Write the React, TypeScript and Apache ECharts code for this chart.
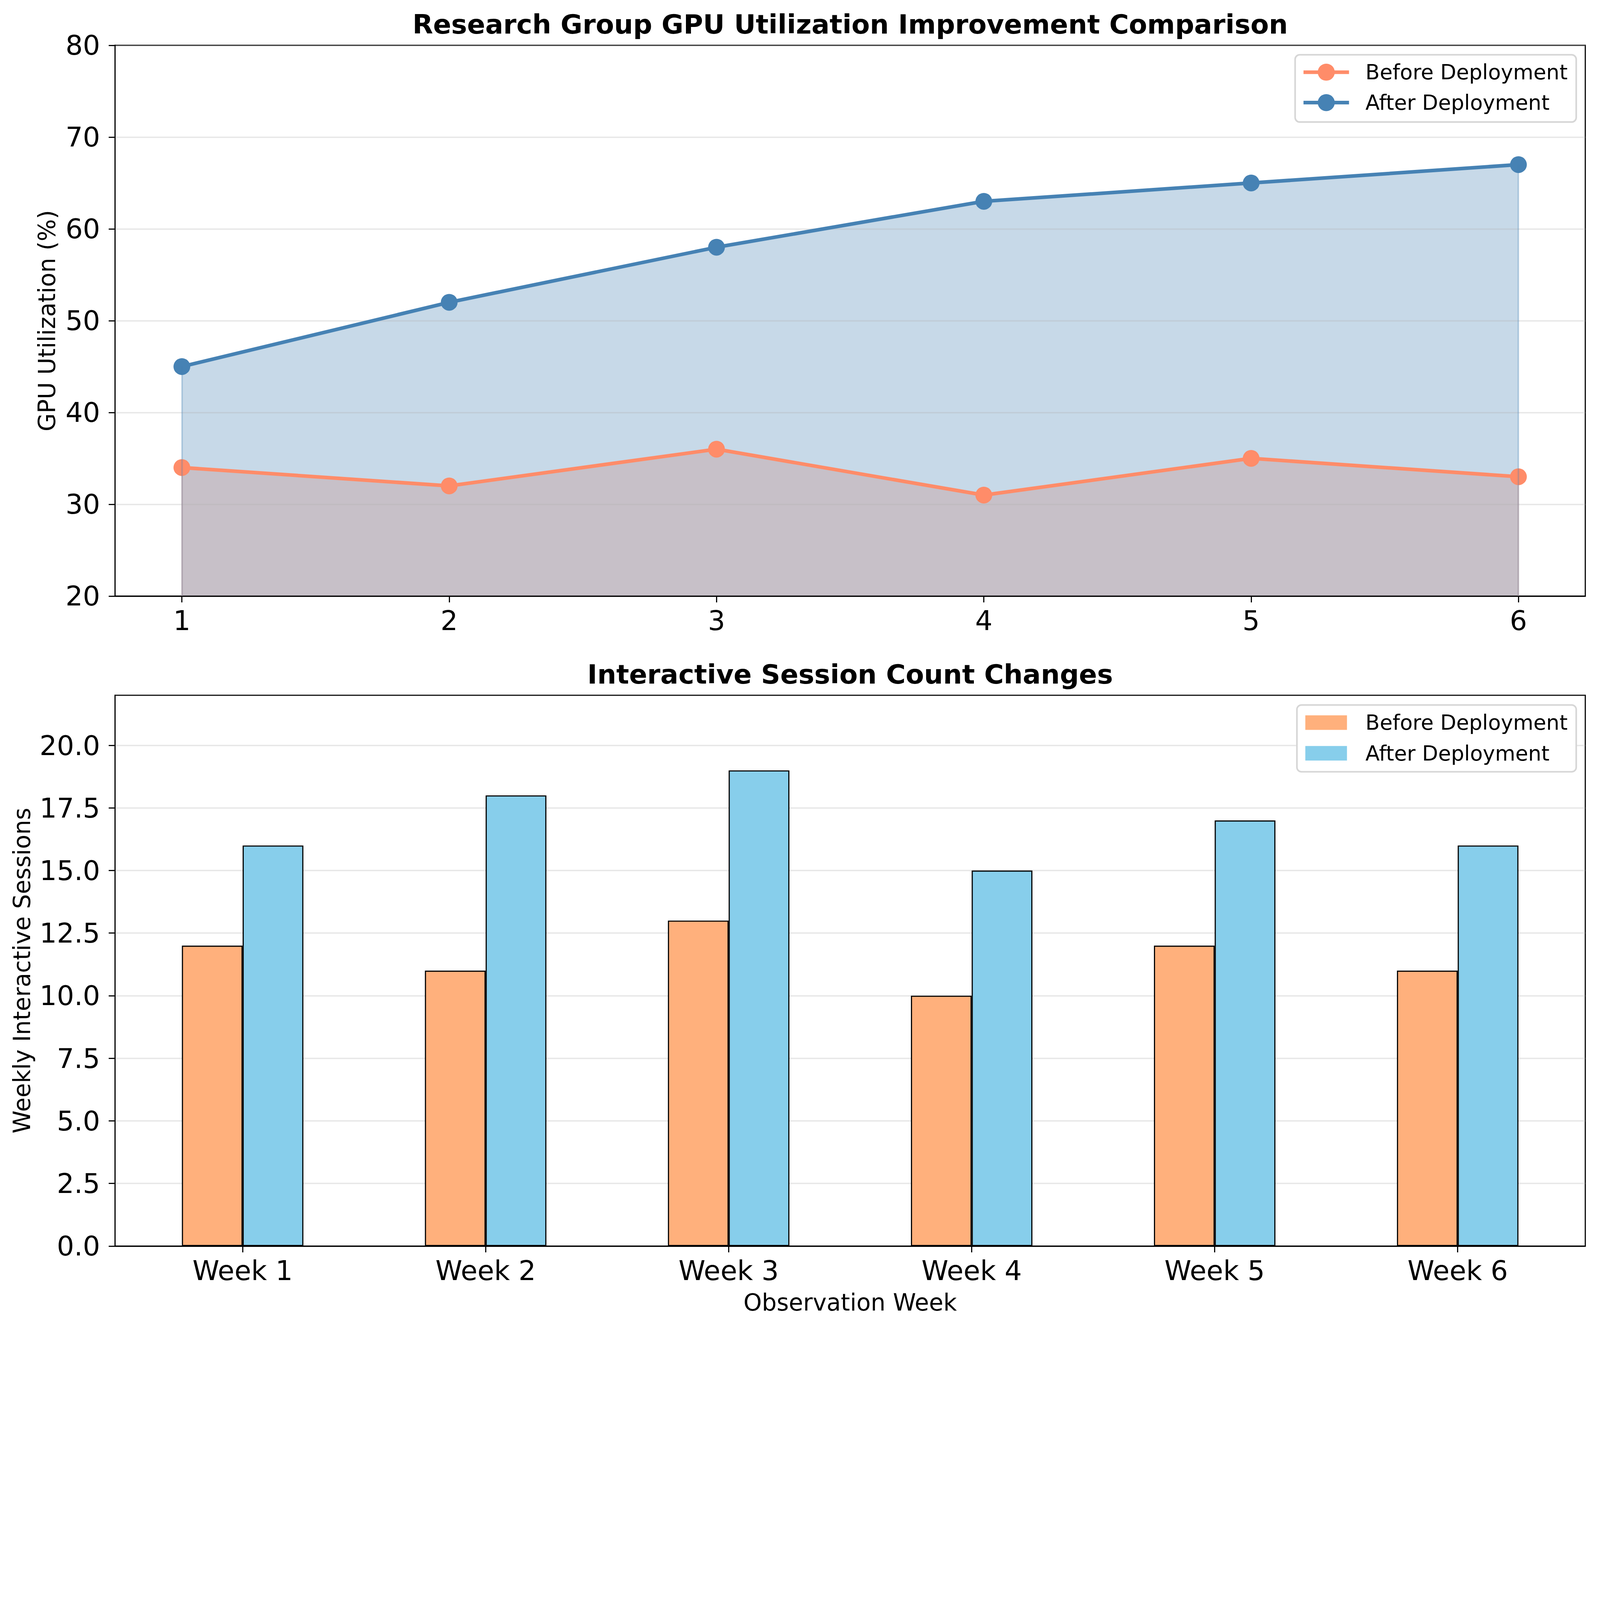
import React, { useEffect, useRef } from "react";
import * as echarts from "echarts";

const REF_W = 7065;
const REF_H = 5866;
const FONT = "DejaVu Sans";

// ---- data ----
const weeks = [1, 2, 3, 4, 5, 6];
const weekLabels = ["Week 1", "Week 2", "Week 3", "Week 4", "Week 5", "Week 6"];
const weekIndex = [0, 1, 2, 3, 4, 5];
const gpuBefore = [34, 32, 36, 31, 35, 33];
const gpuAfter = [45, 52, 58, 63, 65, 67];
const sessionsBefore = [12, 11, 13, 10, 12, 11];
const sessionsAfter = [16, 18, 19, 15, 17, 16];
const sessionTicks = [0, 2.5, 5, 7.5, 10, 12.5, 15, 17.5, 20];
const gpuAxisMin = 20;
const seriesNames = ["Before Deployment", "After Deployment"];
const titles = ["Research Group GPU Utilization Improvement Comparison", "Interactive Session Count Changes"];

// ---- styles ----
const C_BEFORE_LINE = "#FF8C69";
const C_AFTER_LINE = "#4682B4";
const C_BEFORE_BAR = "#FFB07C";
const C_AFTER_BAR = "#87CEEB";

// layout in reference pixels
const GL = 508, GR = 7000;
const TOP1 = 200, BOT1 = 2632;
const TOP2 = 3070, BOT2 = 5502;

function edgeLines(values: number[]) {
  const last = weeks.length - 1;
  return [
    [{ coord: [weeks[0], gpuAxisMin] }, { coord: [weeks[0], values[0]] }],
    [{ coord: [weeks[last], gpuAxisMin] }, { coord: [weeks[last], values[last]] }],
  ];
}

function buildOption(S: number) {
  const p = (v: number) => v * S;
  const GRID_LINE = { color: "rgba(176,176,176,0.3)", width: p(6) };
  const AX_LINE = { color: "#000", width: p(5) };
  const tickLabel = { color: "#000", fontSize: p(120), fontFamily: FONT };
  const nameStyle = { color: "#000", fontSize: p(103), fontFamily: FONT };
  const barW = p(((GR - GL) / 6.05) * 0.25);
  const fillSeries = (name: string, values: number[], color: string) => ({
    type: "line", name, xAxisIndex: 0, yAxisIndex: 0, z: 1, silent: true,
    data: weeks.map((w, i) => [w, values[i]]),
    symbol: "none", showSymbol: false,
    lineStyle: { width: 0 },
    areaStyle: { color, opacity: 0.3, origin: "start" },
    markLine: {
      silent: true, symbol: ["none", "none"], label: { show: false },
      lineStyle: { color, opacity: 0.3, width: p(7), type: "solid" },
      emphasis: { disabled: true },
      data: edgeLines(values),
    },
  });
  return {
    animation: false,
    backgroundColor: "#fff",
    textStyle: { fontFamily: FONT },
    grid: [
      { left: p(GL), top: p(TOP1), width: p(GR - GL), height: p(BOT1 - TOP1), show: true, borderColor: "#000", borderWidth: p(5), backgroundColor: "transparent" },
      { left: p(GL), top: p(TOP2), width: p(GR - GL), height: p(BOT2 - TOP2), show: true, borderColor: "#000", borderWidth: p(5), backgroundColor: "transparent" },
    ],
    graphic: [
      { type: "text", x: p((GL + GR) / 2), y: p(107), style: { text: titles[0], font: `bold ${p(118)}px "${FONT}"`, fill: "#000", textAlign: "center", textVerticalAlign: "middle" } },
      { type: "text", x: p((GL + GR) / 2), y: p(2978), style: { text: titles[1], font: `bold ${p(118)}px "${FONT}"`, fill: "#000", textAlign: "center", textVerticalAlign: "middle" } },
    ],
    xAxis: [
      {
        gridIndex: 0, type: "value", min: 0.75, max: 6.25, z: 2,
        axisLine: { show: true, onZero: false, lineStyle: AX_LINE },
        axisTick: { show: true, length: p(28), lineStyle: AX_LINE, customValues: weeks },
        axisLabel: { ...tickLabel, margin: p(47), customValues: weeks, formatter: (v: number) => String(v) },
        splitLine: { show: false },
      },
      {
        gridIndex: 1, type: "value", min: -0.525, max: 5.525, z: 2,
        name: "Observation Week", nameLocation: "middle", nameGap: p(197), nameTextStyle: nameStyle,
        axisLine: { show: true, onZero: false, lineStyle: AX_LINE },
        axisTick: { show: true, length: p(28), lineStyle: AX_LINE, customValues: weekIndex },
        axisLabel: { ...tickLabel, margin: p(47), customValues: weekIndex, formatter: (v: number) => weekLabels[Math.round(v)] ?? "" },
        splitLine: { show: false },
      },
    ],
    yAxis: [
      {
        gridIndex: 0, type: "value", min: gpuAxisMin, max: 80, interval: 10, z: 2,
        name: "GPU Utilization (%)", nameLocation: "middle", nameGap: p(248), nameTextStyle: nameStyle,
        axisLine: { show: true, onZero: false, lineStyle: AX_LINE },
        axisTick: { show: true, length: p(28), lineStyle: AX_LINE },
        axisLabel: { ...tickLabel, margin: p(66) },
        splitLine: { show: true, lineStyle: GRID_LINE },
      },
      {
        gridIndex: 1, type: "value", min: 0, max: 22, interval: 2.5, z: 0,
        name: "Weekly Interactive Sessions", nameLocation: "middle", nameGap: p(359), nameTextStyle: nameStyle,
        axisLine: { show: true, onZero: false, lineStyle: AX_LINE },
        axisTick: { show: true, length: p(28), lineStyle: AX_LINE, customValues: sessionTicks },
        axisLabel: { ...tickLabel, margin: p(66), customValues: sessionTicks, formatter: (v: number) => v.toFixed(1) },
        splitLine: { show: true, lineStyle: GRID_LINE },
      },
    ],
    legend: [
      {
        orient: "vertical", right: p(105), top: p(242), z: 10,
        padding: [p(31), p(38), p(40), p(29)], itemWidth: p(201), itemHeight: p(94), itemGap: p(43),
        backgroundColor: "#fff", borderColor: "#d6d6d6", borderWidth: p(7), borderRadius: p(20),
        lineStyle: { width: p(16) },
        textStyle: { color: "#000", fontSize: p(92), fontFamily: FONT, padding: [0, 0, 0, p(64)] },
        data: [seriesNames[0], seriesNames[1]],
      },
      {
        orient: "vertical", right: p(105), top: p(3113), z: 10,
        padding: [p(32), p(38), p(36), p(37)], itemWidth: p(184), itemHeight: p(64), itemGap: p(44),
        backgroundColor: "#fff", borderColor: "#d6d6d6", borderWidth: p(7), borderRadius: p(20),
        textStyle: { color: "#000", fontSize: p(92), fontFamily: FONT, padding: [0, 0, 0, p(73)] },
        data: [
          { name: seriesNames[0], icon: "rect", itemStyle: { color: C_BEFORE_BAR, borderWidth: 0 } },
          { name: seriesNames[1], icon: "rect", itemStyle: { color: C_AFTER_BAR, borderWidth: 0 } },
        ],
      },
    ],
    series: [
      {
        type: "line", name: seriesNames[0], xAxisIndex: 0, yAxisIndex: 0, z: 3,
        data: weeks.map((w, i) => [w, gpuBefore[i]]),
        symbol: "circle", symbolSize: p(74), showSymbol: true,
        itemStyle: { color: C_BEFORE_LINE, borderWidth: 0 },
        lineStyle: { color: C_BEFORE_LINE, width: p(16) },
      },
      {
        type: "line", name: seriesNames[1], xAxisIndex: 0, yAxisIndex: 0, z: 3,
        data: weeks.map((w, i) => [w, gpuAfter[i]]),
        symbol: "circle", symbolSize: p(74), showSymbol: true,
        itemStyle: { color: C_AFTER_LINE, borderWidth: 0 },
        lineStyle: { color: C_AFTER_LINE, width: p(16) },
      },
      fillSeries("before-fill", gpuBefore, C_BEFORE_LINE),
      fillSeries("after-fill", gpuAfter, C_AFTER_LINE),
      {
        type: "bar", name: seriesNames[0], xAxisIndex: 1, yAxisIndex: 1, z: 2,
        data: weekIndex.map((i) => [i, sessionsBefore[i]]),
        barWidth: barW, barGap: "0%",
        itemStyle: { color: C_BEFORE_BAR, borderColor: "#000", borderWidth: p(5) },
      },
      {
        type: "bar", name: seriesNames[1], xAxisIndex: 1, yAxisIndex: 1, z: 2,
        data: weekIndex.map((i) => [i, sessionsAfter[i]]),
        barWidth: barW, barGap: "0%",
        itemStyle: { color: C_AFTER_BAR, borderColor: "#000", borderWidth: p(5) },
      },
    ],
  };
}

export default function App() {
  const ref = useRef<HTMLDivElement>(null);
  useEffect(() => {
    document.body.style.margin = "0";
    document.body.style.overflow = "hidden";
    const vw = window.innerWidth;
    const vh = window.innerHeight;
    const S = Math.min(vw / REF_W, vh / REF_H);
    const w = REF_W * S;
    const h = REF_H * S;
    const el = ref.current as HTMLDivElement;
    el.style.width = w + "px";
    el.style.height = h + "px";
    const chart = echarts.init(el, null, { renderer: "svg", width: w, height: h });
    chart.setOption(buildOption(S) as any);
    return () => chart.dispose();
  }, []);
  return <div ref={ref} style={{ width: 100, height: 100 }} />;
}
